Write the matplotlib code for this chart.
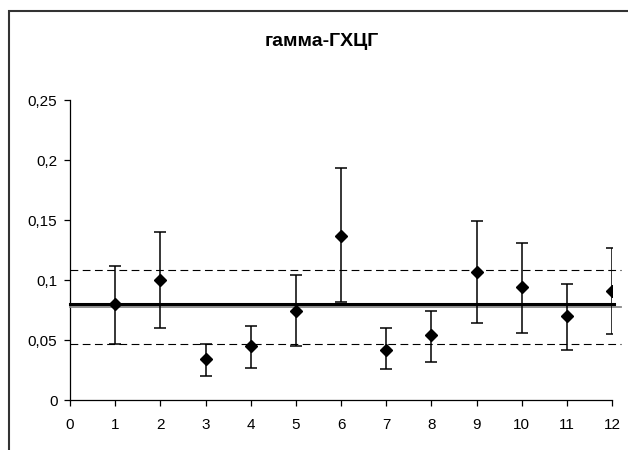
import matplotlib
matplotlib.use('Agg')
import matplotlib.pyplot as plt
from matplotlib.patches import Rectangle

plt.rcParams['font.family'] = ['Liberation Sans', 'DejaVu Sans']

# data
samples = [1, 2, 3, 4, 5, 6, 7, 8, 9, 10, 11, 12]
values = [0.080, 0.100, 0.034, 0.045, 0.074, 0.137, 0.042, 0.054, 0.107, 0.094, 0.070, 0.091]
upper = [0.112, 0.140, 0.047, 0.062, 0.104, 0.193, 0.060, 0.074, 0.149, 0.131, 0.097, 0.127]
lower = [0.047, 0.060, 0.020, 0.027, 0.045, 0.082, 0.026, 0.032, 0.064, 0.056, 0.042, 0.055]
mean_level = 0.080
median_level = 0.0775
band = [0.047, 0.108]
yticks = [0, 0.05, 0.1, 0.15, 0.2, 0.25]
ytick_labels = ['0', '0,05', '0,1', '0,15', '0,2', '0,25']
xticks = list(range(0, 13))

fig = plt.figure(figsize=(6.28, 4.5), dpi=100)

# chart frame (runs off the right and bottom edge like the original)
fig.add_artist(Rectangle((8.5 / 628, -0.2), 1.5, 1.2 - 11 / 450,
                         transform=fig.transFigure, fill=False,
                         edgecolor='#333333', linewidth=1.5, zorder=0))

ax = fig.add_axes([70 / 628, 50 / 450, 542 / 628, 300 / 450])
ax.patch.set_alpha(0)

err_lo = [v - l for v, l in zip(values, lower)]
err_hi = [u - v for v, u in zip(values, upper)]
ax.errorbar(samples, values, yerr=[err_lo, err_hi], fmt='D', color='black',
            markersize=6.5, ecolor='black', elinewidth=1.1, capsize=4.3,
            capthick=1.1, zorder=5)

ax.plot([0, 12.2], [median_level, median_level], color='#888888', lw=1.3,
        clip_on=False, zorder=3)
ax.plot([0, 12.05], [mean_level, mean_level], color='black', lw=2.2,
        clip_on=False, zorder=4)
for b in band:
    ax.plot([0, 12.2], [b, b], color='black', lw=0.8, dashes=(7, 4),
            clip_on=False, zorder=2)

ax.set_xlim(0, 12)
ax.set_ylim(0, 0.25)
ax.set_xticks(xticks)
ax.set_yticks(yticks)
ax.set_yticklabels(ytick_labels)
ax.spines['top'].set_visible(False)
ax.spines['right'].set_visible(False)
for s in ['left', 'bottom']:
    ax.spines[s].set_linewidth(0.9)
ax.tick_params(axis='y', direction='out', length=4, width=0.9, pad=5, labelsize=11)
ax.tick_params(axis='x', direction='out', length=4, width=0.9, pad=9, labelsize=11)

fig.text(322 / 628, 1 - 42 / 450, 'гамма-ГХЦГ', ha='center', va='center',
         fontsize=14, fontweight='bold')

fig.savefig('out.png', dpi=100)
